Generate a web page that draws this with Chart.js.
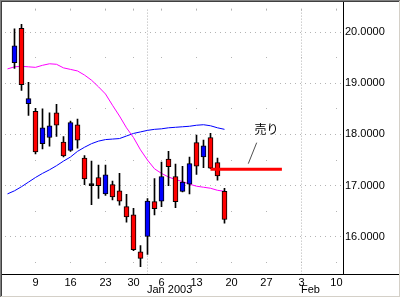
<!DOCTYPE html>
<html>
<head>
<meta charset="utf-8">
<script src="https://cdn.jsdelivr.net/npm/chart.js@4.4.0/dist/chart.umd.min.js"></script>
<style>
  html, body { margin: 0; padding: 0; background: #fff; }
  canvas { display: block; }
</style>
</head>
<body>
<canvas id="chart" width="401" height="298"></canvas>
<script>
// x = trading day index, 0 = Dec 3 2002 (holidays skipped)
const candleIdx = [1, 2, 3, 4, 5, 6, 7, 8, 9, 10, 11, 12, 13, 14, 15, 16, 17, 18, 19, 20, 21, 22, 23, 24, 25, 26, 27, 28, 29, 30, 31];
const opens  = [19.40, 20.07, 18.60, 18.45, 17.82, 17.94, 18.42, 17.85, 17.69, 18.19, 17.54, 17.00, 17.16, 16.84, 17.02, 16.90, 16.59, 16.43, 15.71, 16.01, 16.69, 16.70, 17.52, 17.18, 16.89, 17.03, 17.84, 17.56, 17.94, 17.45, 16.89];
const highs  = [20.06, 20.15, 19.02, 18.51, 18.50, 18.42, 18.59, 17.96, 18.26, 18.30, 17.59, 17.48, 17.40, 17.40, 17.09, 17.24, 16.83, 16.56, 15.83, 16.75, 17.14, 17.46, 17.67, 17.42, 17.38, 17.56, 17.99, 17.89, 18.02, 17.54, 16.95];
const lows   = [19.29, 18.86, 18.37, 17.62, 17.72, 17.77, 17.96, 17.56, 17.67, 17.73, 17.02, 16.63, 16.75, 16.81, 16.72, 16.62, 16.29, 15.73, 15.42, 15.66, 16.43, 16.59, 17.00, 16.57, 16.88, 16.84, 17.22, 17.35, 17.33, 17.11, 16.27];
const closes = [19.73, 18.97, 18.70, 17.66, 18.13, 18.17, 18.18, 17.58, 18.23, 17.89, 17.13, 17.00, 17.00, 17.21, 16.78, 16.70, 16.39, 15.75, 15.58, 16.70, 16.55, 17.18, 17.37, 16.69, 17.07, 17.43, 17.38, 17.78, 17.34, 17.19, 16.34];

const maIdx = [0, 1, 2, 3, 4, 5, 6, 7, 8, 9, 10, 11, 12, 13, 14, 15, 16, 17, 18, 19, 20, 21, 22, 23, 24, 25, 26, 27, 28, 29, 30, 31];
const maShort = [19.28, 19.32, 19.33, 19.32, 19.31, 19.35, 19.38, 19.37, 19.30, 19.27, 19.24, 19.16, 19.06, 18.93, 18.79, 18.57, 18.36, 18.13, 17.94, 17.70, 17.50, 17.33, 17.24, 17.17, 17.12, 17.08, 17.03, 16.99, 16.97, 16.95, 16.91, 16.89];
const maLong  = [16.84, 16.90, 16.98, 17.07, 17.16, 17.24, 17.31, 17.39, 17.48, 17.56, 17.67, 17.75, 17.82, 17.87, 17.90, 17.91, 17.92, 17.97, 18.02, 18.05, 18.08, 18.10, 18.11, 18.13, 18.14, 18.15, 18.16, 18.18, 18.19, 18.17, 18.13, 18.10];

const sellIdx = [29, 39.2];
const sellPrice = 17.32;
const noteText = "売り";
const notePos = [37, 18.10];
const notePointer = [[34.4, 17.43], [35.6, 17.84]];

const tickIdx = [4, 9, 14, 18, 22, 27, 32, 37, 42, 47];
const tickLabels = ["9", "16", "23", "30", "6", "13", "20", "27", "3", "10"];
const monthIdx = [20, 42];
const monthLabels = ["Jan 2003", "Feb"];
const yMajor = [16, 17, 18, 19, 20];
const yMinor = [15.5, 16.5, 17.5, 18.5, 19.5];

const FONT = "'Liberation Sans', Arial, sans-serif";
const GRID = "#b4b4b4";

const bodies = candleIdx.map((x, k) => ({ x: x, y: [opens[k], closes[k]] }));
const wicks = candleIdx.map((x, k) => ({ x: x, y: [lows[k], highs[k]] }));
const toPts = (xs, ys) => xs.map((x, k) => ({ x: x, y: ys[k] }));

const decor = {
  id: "decor",
  beforeDraw(chart) {
    const c = chart.ctx;
    c.save();
    c.fillStyle = "#fff";
    c.fillRect(0, 0, chart.width, chart.height);
    c.restore();
  },
  beforeDatasetsDraw(chart) {
    const c = chart.ctx, a = chart.chartArea;
    const xs = chart.scales.x, ys = chart.scales.y;
    c.save();
    c.fillStyle = GRID;
    yMajor.forEach(v => {
      const py = Math.floor(ys.getPixelForValue(v));
      for (let px = a.left + 1; px < a.right; px += 5) c.fillRect(px, py, 1, 1);
    });
    yMinor.forEach(v => {
      const py = Math.floor(ys.getPixelForValue(v));
      tickIdx.forEach(t => c.fillRect(Math.floor(xs.getPixelForValue(t)), py, 1, 1));
    });
    monthIdx.forEach(m => {
      const px = Math.floor(xs.getPixelForValue(m));
      for (let py = a.top + 1; py < a.bottom; py += 3) c.fillRect(px, py, 1, 1);
    });
    tickIdx.forEach(t => c.fillRect(Math.floor(xs.getPixelForValue(t)), a.top, 1, 2));
    c.restore();
  },
  afterDatasetsDraw(chart) {
    const c = chart.ctx, a = chart.chartArea;
    const xs = chart.scales.x, ys = chart.scales.y;
    c.save();
    // pointer + note
    c.strokeStyle = "#505050";
    c.lineWidth = 1;
    c.beginPath();
    c.moveTo(xs.getPixelForValue(notePointer[0][0]), ys.getPixelForValue(notePointer[0][1]));
    c.lineTo(xs.getPixelForValue(notePointer[1][0]), ys.getPixelForValue(notePointer[1][1]));
    c.stroke();
    c.fillStyle = "#000";
    c.font = "12px 'Noto Sans CJK JP'";
    c.textAlign = "center";
    c.textBaseline = "middle";
    c.fillText(noteText, xs.getPixelForValue(notePos[0]), ys.getPixelForValue(notePos[1]));
    // month labels
    c.font = "11px " + FONT;
    c.textAlign = "left";
    monthIdx.forEach((m, k) => c.fillText(monthLabels[k], Math.floor(xs.getPixelForValue(m)), 290));
    // axis lines
    c.fillStyle = "#000";
    c.fillRect(a.right, 2, 1, a.bottom - 2);
    c.fillRect(2, a.bottom, chart.width - 4, 1);
    // frame
    c.fillStyle = "#808080";
    c.fillRect(0, 0, chart.width, 1);
    c.fillRect(0, 0, 1, chart.height);
    c.fillStyle = "#404040";
    c.fillRect(1, 1, chart.width - 2, 1);
    c.fillRect(1, 1, 1, chart.height - 2);
    c.fillStyle = "#d4d0c8";
    c.fillRect(chart.width - 2, 1, 1, chart.height - 2);
    c.fillRect(1, chart.height - 2, chart.width - 2, 1);
    c.fillStyle = "#ffffff";
    c.fillRect(chart.width - 1, 0, 1, chart.height);
    c.fillRect(0, chart.height - 1, chart.width, 1);
    c.restore();
  }
};

new Chart(document.getElementById("chart"), {
  type: "bar",
  data: {
    datasets: [
      { type: "line", data: toPts(sellIdx, sellIdx.map(() => sellPrice)), borderColor: "#ff0000", borderWidth: 3,
        pointRadius: 0, borderCapStyle: "butt", order: 0 },
      { label: "body", data: bodies, grouped: false, barThickness: 5, minBarLength: 2,
        backgroundColor: ctx => {
          const r = ctx.raw;
          if (!r) return "#000";
          return r.y[1] > r.y[0] ? "#0000ff" : (r.y[1] < r.y[0] ? "#ff0000" : "#000");
        },
        borderColor: "#000", borderWidth: 1, borderSkipped: false, order: 1 },
      { label: "wick", data: wicks, grouped: false, barThickness: 1, backgroundColor: "#000", borderWidth: 0, order: 2 },
      { type: "line", data: toPts(maIdx, maShort), borderColor: "#ff00ff", borderWidth: 1, pointRadius: 0, tension: 0, order: 3 },
      { type: "line", data: toPts(maIdx, maLong), borderColor: "#0000ff", borderWidth: 1, pointRadius: 0, tension: 0, order: 4 }
    ]
  },
  options: {
    responsive: false,
    animation: false,
    events: [],
    plugins: { legend: { display: false }, tooltip: { enabled: false } },
    layout: { padding: { left: 4, top: 2, right: 0, bottom: 0 } },
    scales: {
      x: {
        type: "linear", min: -0.5, max: 47.93, offset: false,
        grid: { display: false, drawTicks: false }, border: { display: false },
        afterBuildTicks: s => { s.ticks = tickIdx.map(v => ({ value: v })); },
        afterFit: s => { s.height = 24; },
        ticks: {
          autoSkip: false, maxRotation: 0, padding: 2, color: "#000",
          font: { family: FONT, size: 11 },
          callback: v => { const k = tickIdx.indexOf(v); return k < 0 ? "" : tickLabels[k]; }
        }
      },
      y: {
        position: "right", min: 15.276, max: 20.457,
        grid: { display: false, drawTicks: false }, border: { display: false },
        afterBuildTicks: s => { s.ticks = yMajor.map(v => ({ value: v })); },
        afterFit: s => { s.width = 58; },
        ticks: {
          padding: 2, color: "#000", font: { family: FONT, size: 11 },
          callback: v => Number(v).toFixed(4)
        }
      }
    }
  },
  plugins: [decor]
});
</script>
</body>
</html>
